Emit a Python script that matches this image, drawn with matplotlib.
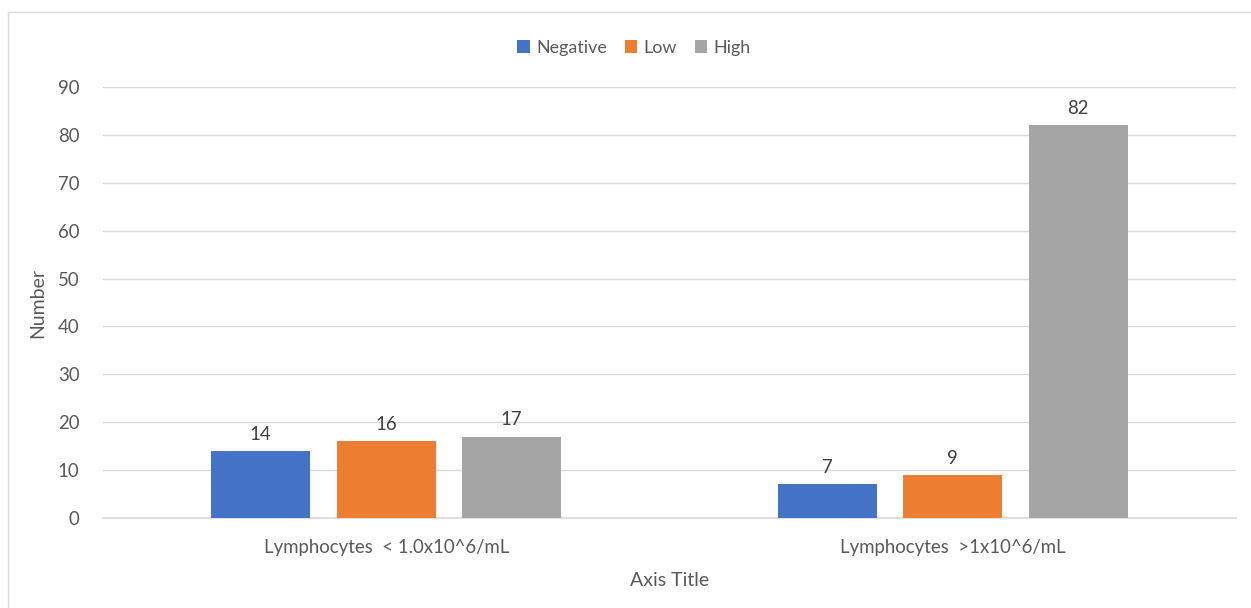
import matplotlib.pyplot as plt
import numpy as np
from matplotlib.patches import Rectangle

categories = ["Lymphocytes  < 1.0x10^6/mL", "Lymphocytes  >1x10^6/mL"]
series_names = ["Negative", "Low", "High"]
negative = [14, 7]
low = [16, 9]
high = [17, 82]
yticks = [0, 10, 20, 30, 40, 50, 60, 70, 80, 90]

colors = ["#4472C4", "#ED7D31", "#A5A5A5"]
text_color = "#595959"
grid_color = "#D9D9D9"
fs = 13.4

plt.rcParams.update({
    "font.family": ["Lato", "DejaVu Sans"],
    "font.size": fs,
    "text.color": text_color,
})

W, H = 1251, 608
fig = plt.figure(figsize=(W / 100, H / 100), dpi=100)
fig.patch.set_facecolor("white")

# chart-area frame, runs off the right and bottom edge
fig.patches.append(Rectangle((7.5 / W, -0.1), 1.2, 1 - 11.5 / H + 0.1,
                             transform=fig.transFigure, fill=False,
                             edgecolor=grid_color, linewidth=1.0))

ax = fig.add_axes([103 / W, 1 - 518 / H, (1236 - 103) / W, (518 - 87) / H])

x = np.arange(len(categories))
width = 0.175
step = 0.2215
for i, (name, vals) in enumerate(zip(series_names, [negative, low, high])):
    bars = ax.bar(x + (i - 1) * step, vals, width, color=colors[i], label=name, zorder=3)
    ax.bar_label(bars, labels=[str(v) for v in vals], padding=6,
                 color="#404040", fontsize=fs)

ax.set_xlim(-0.5, 1.5)
ax.set_ylim(0, 90)
ax.set_yticks(yticks)
ax.set_xticks(x)
ax.set_xticklabels(categories)
ax.tick_params(length=0, colors=text_color, labelsize=fs)
ax.tick_params(axis="y", pad=17)
ax.tick_params(axis="x", pad=15)
ax.yaxis.grid(True, color=grid_color, linewidth=1.0, zorder=0)
for side in ["top", "right", "left"]:
    ax.spines[side].set_visible(False)
ax.spines["bottom"].set_color(grid_color)
ax.spines["bottom"].set_linewidth(1.2)

ax.set_ylabel("Number", fontsize=14, color=text_color, labelpad=8)
ax.set_xlabel("Axis Title", fontsize=14, color=text_color, labelpad=12)

leg = fig.legend(loc="center", bbox_to_anchor=(634 / W, 1 - 48 / H), ncol=3,
                 frameon=False, handlelength=0.7, handleheight=0.7,
                 handletextpad=0.35, columnspacing=1.0, fontsize=12.9)
for t in leg.get_texts():
    t.set_color(text_color)

fig.savefig("out.png", dpi=100, facecolor="white")
